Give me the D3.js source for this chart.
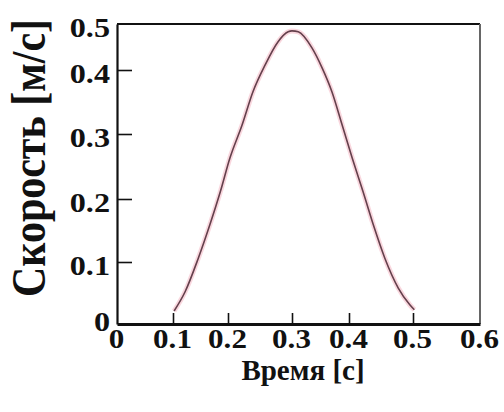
<!DOCTYPE html>
<html>
<head>
<meta charset="utf-8">
<script src="https://cdn.jsdelivr.net/npm/d3@7"></script>
<style>
  html, body { margin: 0; padding: 0; background: #fff; }
  svg { display: block; }
  .lbl { font-family: "Liberation Serif", "Times New Roman", serif; font-weight: bold; fill: #111; }
</style>
</head>
<body>
<svg id="chart" width="504" height="412"></svg>
<script>
// Velocity profile: time (s) vs speed (m/s)
const timeS = [0.102, 0.122, 0.146, 0.167, 0.186, 0.203, 0.222, 0.239, 0.258, 0.278, 0.294, 0.300,
               0.311, 0.335, 0.353, 0.370, 0.388, 0.405, 0.422, 0.438, 0.456, 0.477, 0.495, 0.502];
const speed = [0.021, 0.052, 0.106, 0.159, 0.211, 0.263, 0.314, 0.366, 0.411, 0.461, 0.483, 0.485,
               0.483, 0.448, 0.404, 0.366, 0.314, 0.263, 0.211, 0.159, 0.106, 0.058, 0.031, 0.023];

const xTicks = [0, 0.1, 0.2, 0.3, 0.4, 0.5, 0.6];
const yTicks = [0, 0.1, 0.2, 0.3, 0.4, 0.5];
const xTickLabels = ["0", "0.1", "0.2", "0.3", "0.4", "0.5", "0.6"];
const yTickLabels = ["0", "0.1", "0.2", "0.3", "0.4", "0.5"];
const xTitle = "Время [с]";
const yTitle = "Скорость [м/с]";

const svg = d3.select("#chart");

// Piecewise axes, following the printed tick spacing
const x = d3.scaleLinear().domain(xTicks).range([117, 173, 228, 292, 349, 413, 480]);
const y = d3.scaleLinear().domain(yTicks).range([324, 262, 199, 134, 70, 24]);

const plotLeft = x(0), plotRight = x(0.6), plotTop = y(0.5), plotBottom = y(0);
const stretch = 1.15;

// Frame: top and right borders
svg.append("line").attr("x1", plotLeft).attr("x2", plotRight).attr("y1", plotTop).attr("y2", plotTop)
  .attr("stroke", "#111").attr("stroke-width", 2.2);
svg.append("line").attr("x1", plotRight).attr("x2", plotRight).attr("y1", plotTop).attr("y2", plotBottom)
  .attr("stroke", "#666").attr("stroke-width", 2);

// Left axis
const yAxis = svg.append("g").attr("transform", `translate(${plotLeft},0)`)
  .call(d3.axisLeft(y).tickValues(yTicks).tickSizeInner(-15).tickSizeOuter(0).tickFormat((d, i) => yTickLabels[i]));
yAxis.attr("font-family", null).attr("font-size", null);
yAxis.select(".domain").attr("stroke", "#111").attr("stroke-width", 2.2);
yAxis.selectAll(".tick line").attr("stroke", "#111").attr("stroke-width", 1.6)
  .attr("display", d => (d === 0 || d === 0.5) ? "none" : null);
yAxis.selectAll(".tick text").attr("class", "lbl").attr("font-size", 28)
  .attr("x", null).attr("dy", null).attr("text-anchor", "end")
  .attr("transform", d => `translate(${-7},${d === 0 ? 6 : 12}) scale(${stretch},1)`);

// Bottom axis
const xAxis = svg.append("g").attr("transform", `translate(0,${plotBottom})`)
  .call(d3.axisBottom(x).tickValues(xTicks).tickSizeInner(-11).tickSizeOuter(0).tickFormat((d, i) => xTickLabels[i]));
xAxis.attr("font-family", null).attr("font-size", null);
xAxis.select(".domain").attr("stroke", "#111").attr("stroke-width", 3.2);
xAxis.selectAll(".tick line").attr("stroke", "#111").attr("stroke-width", 1.6)
  .attr("display", d => (d === 0 || d === 0.6) ? "none" : null);
xAxis.selectAll(".tick text").attr("class", "lbl").attr("font-size", 27)
  .attr("y", null).attr("dy", null).attr("text-anchor", "middle")
  .attr("transform", `translate(-1,24) scale(${stretch},1)`);

// Speed curve: soft pink halo under a dark maroon line
const pts = timeS.map((t, i) => [t, speed[i]]);
const line = d3.line().x(d => x(d[0])).y(d => y(d[1])).curve(d3.curveMonotoneX);
svg.append("path").datum(pts).attr("d", line).attr("fill", "none")
  .attr("stroke", "#f7c6d0").attr("stroke-width", 5).attr("stroke-opacity", 0.7);
svg.append("path").datum(pts).attr("d", line).attr("fill", "none")
  .attr("stroke", "#64404c").attr("stroke-width", 1.6);

// Axis titles
svg.append("text").attr("class", "lbl").attr("font-size", 29).attr("text-anchor", "middle")
  .attr("transform", "translate(303,380)").text(xTitle);
svg.append("text").attr("class", "lbl").attr("font-size", 42).attr("text-anchor", "middle")
  .attr("transform", "translate(45,158) scale(1.15,1) rotate(-90)").text(yTitle);
</script>
</body>
</html>
